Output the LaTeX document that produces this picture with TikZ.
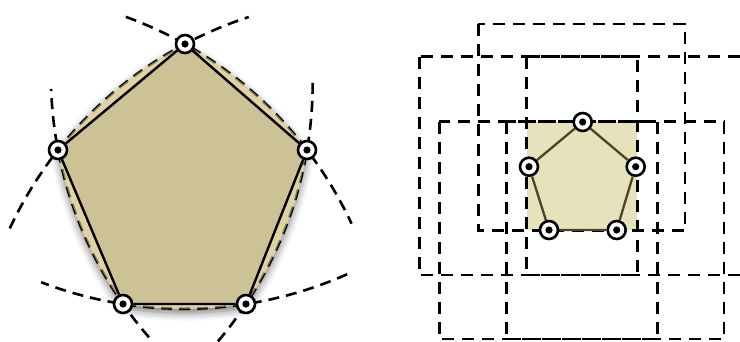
\documentclass[tikz,border=0pt]{standalone}
\usetikzlibrary{shadows.blur}

\definecolor{hullin}{RGB}{205,193,150}
\definecolor{hullband}{RGB}{224,211,163}
\definecolor{boxfill}{RGB}{230,226,187}
\definecolor{olive}{RGB}{74,69,38}

\begin{document}
\begin{tikzpicture}[x=1pt,y=-1pt,
  vtx/.style={circle,draw=black,fill=white,line width=2.6pt,minimum size=18pt,inner sep=0pt,
    path picture={\fill[black] (path picture bounding box.center) circle[radius=3.6pt];}},
  arcline/.style={black,line width=2.6pt,dash pattern=on 11pt off 7pt},
  boxline/.style={black,line width=2.8pt,dash pattern=on 12pt off 8pt},
  hulledge/.style={black,line width=2.4pt},
  boxedge/.style={olive,line width=2.3pt}]

\useasboundingbox (0,0) rectangle (740,341);

% left: pentagon and its circles of radius 400
\coordinate (p1) at (185,44);
\coordinate (p2) at (307,150);
\coordinate (p3) at (246,304);
\coordinate (p4) at (123,304);
\coordinate (p5) at (58,150);

\coordinate (cTR) at (-10.95,392.73);
\coordinate (cR) at (-87.32,82.87);
\coordinate (cB) at (184.5,-91.22);
\coordinate (cL) at (450.88,74.88);
\coordinate (cTL) at (372.29,397.45);

\fill[hullband,blur shadow={shadow xshift=0pt,shadow yshift=-4pt,shadow blur radius=8pt,shadow opacity=55}]
  (p1) arc[start angle=-60.67,end angle=-37.36,radius=400] -- (p2)
  arc[start angle=9.66,end angle=33.56,radius=400] -- (p3)
  arc[start angle=81.16,end angle=98.84,radius=400] -- (p4)
  arc[start angle=145.06,end angle=169.18,radius=400] -- (p5)
  arc[start angle=218.21,end angle=242.08,radius=400] -- cycle;
\fill[hullin] (p1) -- (p2) -- (p3) -- (p4) -- (p5) -- cycle;

\draw[arcline] (cTR) ++(-70:400) arc[start angle=-70,end angle=-25,radius=400];
\draw[arcline] (cR) ++(0:400) arc[start angle=0,end angle=41,radius=400];
\draw[arcline] (cB) ++(66:400) arc[start angle=66,end angle=111,radius=400];
\draw[arcline] (cL) ++(139:400) arc[start angle=139,end angle=178,radius=400];
\draw[arcline] (cTL) ++(205:400) arc[start angle=205,end angle=252,radius=400];

% tint the dashes lying over the band
\fill[hullband,fill opacity=0.55,even odd rule]
  (p1) arc[start angle=-60.67,end angle=-37.36,radius=400] -- (p2)
  arc[start angle=9.66,end angle=33.56,radius=400] -- (p3)
  arc[start angle=81.16,end angle=98.84,radius=400] -- (p4)
  arc[start angle=145.06,end angle=169.18,radius=400] -- (p5)
  arc[start angle=218.21,end angle=242.08,radius=400] -- cycle
  (p1) -- (p2) -- (p3) -- (p4) -- (p5) -- cycle;

\node[vtx] (v1) at (p1) {};
\node[vtx] (v2) at (p2) {};
\node[vtx] (v3) at (p3) {};
\node[vtx] (v4) at (p4) {};
\node[vtx] (v5) at (p5) {};
\draw[hulledge] (v1) -- (v2) -- (v3) -- (v4) -- (v5) -- (v1);

% right: bounding square and the squares around it
\fill[boxfill] (527,122) rectangle (637,230);

\draw[boxline] (419.3,56.7) rectangle (637.7,275);
\draw[boxline] (526.7,56.7) rectangle (745,275);
\draw[boxline] (478.3,24) rectangle (685,230.7);
\draw[boxline] (439.3,121.7) rectangle (657.3,339);
\draw[boxline] (506.7,121.7) rectangle (724,339);

\node[vtx] (w1) at (582.7,122) {};
\node[vtx] (w2) at (635.7,166.7) {};
\node[vtx] (w3) at (616.7,230) {};
\node[vtx] (w4) at (549,230) {};
\node[vtx] (w5) at (529,166.7) {};
\draw[boxedge] (w1) -- (w2) -- (w3) -- (w4) -- (w5) -- (w1);

\end{tikzpicture}
\end{document}
